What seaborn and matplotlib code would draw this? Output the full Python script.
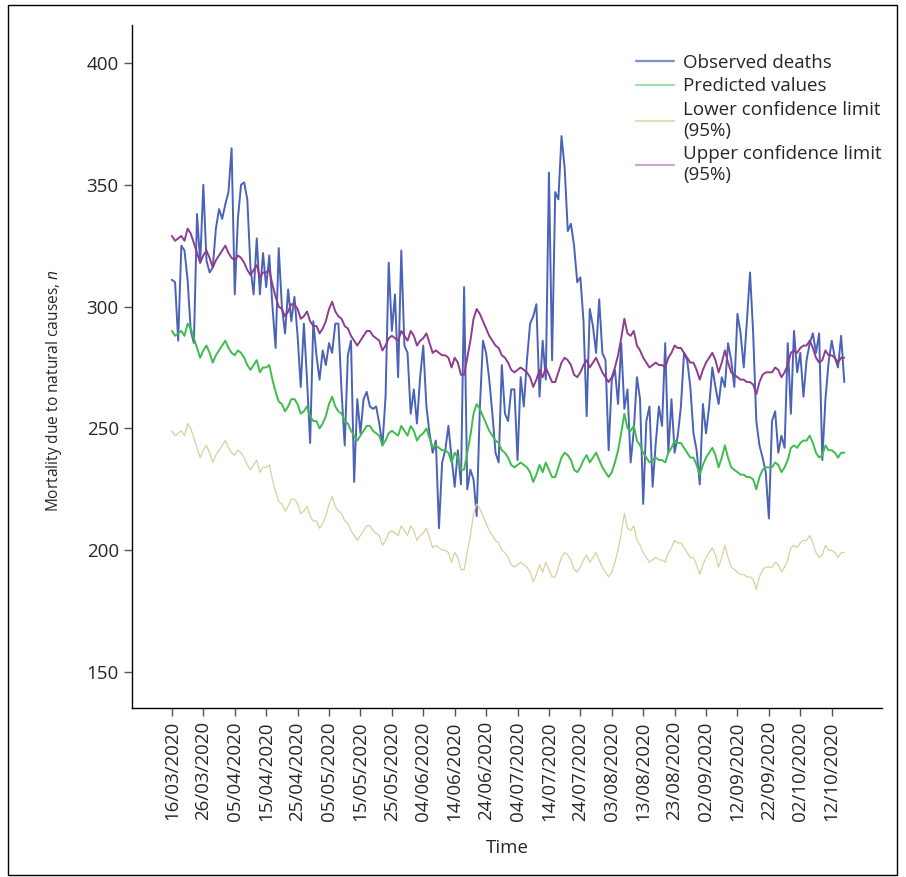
"""Observed vs predicted daily mortality due to natural causes, 2020."""
import matplotlib.pyplot as plt
import matplotlib.dates as mdates
import pandas as pd
import seaborn as sns
from matplotlib.lines import Line2D
from matplotlib.patches import Rectangle

start_date = '2020-03-16'

observed = [
    311, 310, 286, 325, 323, 311, 290, 285, 338, 318,
    350, 319, 314, 316, 332, 340, 336, 342, 347, 365,
    305, 336, 350, 351, 344, 316, 305, 328, 305, 322,
    308, 321, 300, 283, 324, 300, 289, 307, 294, 304,
    288, 267, 293, 270, 244, 294, 280, 270, 282, 276,
    285, 281, 293, 293, 265, 243, 280, 286, 228, 262,
    248, 262, 265, 259, 258, 259, 252, 243, 263, 318,
    290, 305, 271, 323, 284, 281, 256, 266, 252, 271,
    284, 259, 248, 240, 245, 209, 236, 241, 251, 238,
    226, 241, 227, 308, 225, 233, 229, 214, 258, 286,
    281, 270, 256, 240, 236, 276, 256, 253, 266, 266,
    237, 271, 259, 278, 293, 296, 301, 263, 286, 270,
    355, 278, 347, 344, 370, 357, 331, 334, 325, 310,
    312, 294, 255, 299, 292, 281, 303, 281, 278, 241,
    270, 274, 260, 285, 258, 266, 236, 249, 271, 262,
    219, 253, 259, 226, 244, 259, 251, 285, 240, 262,
    240, 247, 259, 281, 278, 267, 248, 241, 227, 260,
    248, 259, 275, 267, 260, 271, 267, 285, 278, 267,
    297, 289, 275, 294, 314, 289, 253, 243, 238, 232,
    213, 253, 257, 240, 247, 242, 285, 256, 290, 273,
    281, 263, 278, 285, 289, 281, 289, 237, 262, 277,
    286, 279, 275, 288, 269,
]

predicted = [
    290, 288, 289, 290, 288, 293, 291, 287, 283, 279,
    282, 284, 281, 277, 280, 282, 284, 286, 283, 281,
    280, 282, 281, 279, 276, 274, 276, 278, 273, 275,
    275, 276, 270, 265, 261, 260, 257, 259, 262, 262,
    260, 256, 257, 259, 255, 253, 253, 250, 252, 255,
    260, 263, 259, 257, 256, 253, 252, 249, 247, 245,
    247, 249, 251, 251, 249, 248, 247, 243, 245, 248,
    249, 248, 247, 251, 249, 247, 251, 249, 245, 247,
    248, 250, 246, 242, 243, 242, 241, 241, 240, 236,
    240, 238, 233, 233, 240, 247, 256, 260, 258, 255,
    252, 249, 247, 245, 244, 241, 240, 238, 235, 234,
    235, 236, 235, 234, 232, 228, 231, 235, 232, 236,
    233, 230, 230, 234, 238, 240, 239, 237, 233, 232,
    234, 237, 239, 236, 238, 240, 237, 234, 232, 230,
    232, 236, 241, 248, 256, 250, 249, 251, 245, 243,
    240, 238, 236, 237, 238, 237, 237, 236, 240, 242,
    245, 244, 244, 242, 240, 238, 238, 235, 231, 235,
    238, 240, 242, 239, 234, 238, 243, 238, 234, 233,
    232, 231, 231, 230, 230, 229, 225, 230, 233, 234,
    234, 234, 236, 235, 232, 234, 237, 242, 243, 242,
    244, 245, 245, 247, 244, 240, 238, 239, 243, 241,
    241, 240, 238, 240, 240,
]

lower_ci = [
    249, 247, 248, 249, 247, 252, 250, 246, 242, 238,
    241, 243, 240, 236, 239, 241, 243, 245, 242, 240,
    239, 241, 240, 238, 235, 233, 235, 237, 232, 234,
    234, 235, 229, 224, 220, 219, 216, 218, 221, 221,
    219, 215, 216, 218, 214, 212, 212, 209, 211, 214,
    219, 222, 218, 216, 215, 212, 211, 208, 206, 204,
    206, 208, 210, 210, 208, 207, 206, 202, 204, 207,
    208, 207, 206, 210, 208, 206, 210, 208, 204, 206,
    207, 209, 205, 201, 202, 201, 200, 200, 199, 195,
    199, 197, 192, 192, 199, 206, 215, 219, 217, 214,
    211, 208, 206, 204, 203, 200, 199, 197, 194, 193,
    194, 195, 194, 193, 191, 187, 190, 194, 191, 195,
    192, 189, 189, 193, 197, 199, 198, 196, 192, 191,
    193, 196, 198, 195, 197, 199, 196, 193, 191, 189,
    191, 195, 200, 207, 215, 209, 208, 210, 204, 202,
    199, 197, 195, 196, 197, 196, 196, 195, 199, 201,
    204, 203, 203, 201, 199, 197, 197, 194, 190, 194,
    197, 199, 201, 198, 193, 197, 202, 197, 193, 192,
    191, 190, 190, 189, 189, 188, 184, 189, 192, 193,
    193, 193, 195, 194, 191, 193, 196, 201, 202, 201,
    203, 204, 204, 206, 203, 199, 197, 198, 202, 200,
    200, 199, 197, 199, 199,
]

upper_ci = [
    329, 327, 328, 329, 327, 332, 330, 326, 322, 318,
    321, 323, 320, 316, 319, 321, 323, 325, 322, 320,
    319, 321, 320, 318, 315, 313, 315, 317, 312, 314,
    314, 315, 309, 304, 300, 299, 296, 298, 301, 301,
    299, 295, 296, 298, 294, 292, 292, 289, 291, 294,
    299, 302, 298, 296, 295, 292, 291, 288, 286, 284,
    286, 288, 290, 290, 288, 287, 286, 282, 284, 287,
    288, 287, 286, 290, 288, 286, 290, 288, 284, 286,
    287, 289, 285, 281, 282, 281, 280, 280, 279, 275,
    279, 277, 272, 272, 279, 286, 295, 299, 297, 294,
    291, 288, 286, 284, 283, 280, 279, 277, 274, 273,
    274, 275, 274, 273, 271, 267, 270, 274, 271, 275,
    272, 269, 269, 273, 277, 279, 278, 276, 272, 271,
    273, 276, 278, 275, 277, 279, 276, 273, 271, 269,
    271, 275, 280, 287, 295, 289, 288, 290, 284, 282,
    279, 277, 275, 276, 277, 276, 276, 275, 279, 281,
    284, 283, 283, 281, 279, 277, 277, 274, 270, 274,
    277, 279, 281, 278, 273, 277, 282, 277, 273, 272,
    271, 270, 270, 269, 269, 268, 264, 269, 272, 273,
    273, 273, 275, 274, 271, 273, 276, 281, 282, 281,
    283, 284, 284, 286, 283, 279, 277, 278, 282, 280,
    280, 279, 277, 279, 279,
]

series_labels = ['Observed deaths', 'Predicted values',
                 'Lower confidence limit\n(95%)',
                 'Upper confidence limit\n(95%)']
line_colors = ['#4a62b8', '#3dbd4b', '#d9d09c', '#8e3d8e']
legend_colors = ['#7f90d2', '#a2e0ac', '#e6dcac', '#cca6cc']
y_ticks = [150, 200, 250, 300, 350, 400]

dates = pd.date_range(start_date, periods=len(observed), freq='D')
df = pd.DataFrame({'date': dates, 'observed': observed,
                   'predicted': predicted, 'lower': lower_ci,
                   'upper': upper_ci})

sns.set_style('ticks')
plt.rcParams['font.family'] = ['Open Sans', 'DejaVu Sans']
plt.rcParams['mathtext.fontset'] = 'custom'
plt.rcParams['mathtext.it'] = 'Open Sans:italic'

fig = plt.figure(figsize=(9.06, 8.77), dpi=100)
ax = fig.add_axes([0.1457, 0.1927, 0.8278, 0.7788])

widths = [1.4, 1.4, 0.9, 1.4]
for col, color, lw in zip(['observed', 'predicted', 'lower', 'upper'],
                          line_colors, widths):
    sns.lineplot(data=df, x='date', y=col, color=color, linewidth=lw, ax=ax)

# axis ranges and ticks
t0 = pd.Timestamp(start_date)
ax.set_xlim(t0 - pd.Timedelta(days=12.7), t0 + pd.Timedelta(days=226))
ax.set_ylim(135.2, 415.6)
ax.set_yticks(y_ticks)
tick_dates = pd.date_range(start_date, '2020-10-12', freq='10D')
ax.set_xticks(tick_dates)
ax.xaxis.set_major_formatter(mdates.DateFormatter('%d/%m/%Y'))
ax.tick_params(axis='x', labelrotation=90, labelsize=13.5, length=6,
               width=1, color='#555555')
ax.tick_params(axis='y', labelsize=13.5, length=6, width=1,
               color='#555555')

ax.set_xlabel('Time', fontsize=13.5, labelpad=13)
ax.set_ylabel('Mortality due to natural causes, $\\mathit{n}$',
              fontsize=11.2)
ax.yaxis.set_label_coords(-0.091, 0.464)

for s in ['left', 'bottom']:
    ax.spines[s].set_linewidth(1)
    ax.spines[s].set_color('black')
ax.spines['top'].set_visible(False)
ax.spines['right'].set_visible(False)

handles = [Line2D([], [], color=c, linewidth=1.6) for c in legend_colors]
ax.legend(handles, series_labels, loc='upper right',
          bbox_to_anchor=(1.0, 0.958), frameon=False, fontsize=13.5,
          handlelength=2.0, handletextpad=0.5, labelspacing=0.3,
          borderaxespad=0, borderpad=0)

# thin frame around the whole figure
fig.patches.append(Rectangle((0.009, 0.002), 0.981, 0.992,
                             transform=fig.transFigure, fill=False,
                             edgecolor='black', linewidth=1))

plt.savefig('out.png', dpi=100)
plt.close()
